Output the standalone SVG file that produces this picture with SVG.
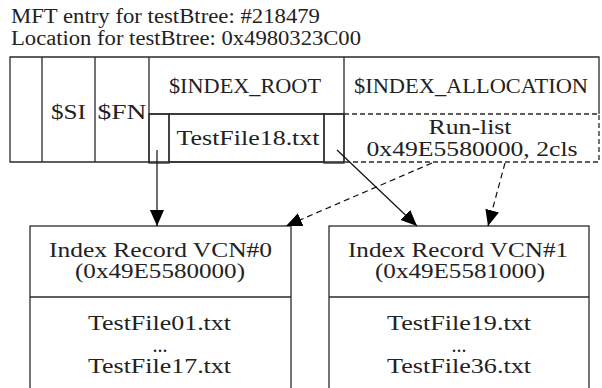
<svg xmlns="http://www.w3.org/2000/svg" width="602" height="388" viewBox="0 0 602 388">
  <style>
    text { font-family: "Liberation Serif", "Times New Roman", serif; font-size: 20px; fill: #222; }
    .c { text-anchor: middle; }
    .frame { fill: none; stroke: #2a2a2a; stroke-width: 1.3; }
    .dash { fill: none; stroke: #2a2a2a; stroke-width: 1.3; stroke-dasharray: 5 3; }
    .edge { fill: none; stroke: #111; stroke-width: 1.2; }
    .edge.dashed { stroke-dasharray: 6 4; }
  </style>
  <defs>
    <marker id="head" markerUnits="userSpaceOnUse" markerWidth="17" markerHeight="15" refX="16" refY="7" orient="auto">
      <path d="M0,0 L16,7 L0,14 Z" fill="#000"/>
    </marker>
  </defs>
  <rect width="602" height="388" fill="#fff"/>

  <!-- header lines -->
  <g id="title">
    <text x="11" y="23" textLength="309" lengthAdjust="spacingAndGlyphs">MFT entry for testBtree: #218479</text>
    <text x="11" y="45" textLength="350" lengthAdjust="spacingAndGlyphs">Location for testBtree: 0x4980323C00</text>
  </g>

  <!-- MFT record layout -->
  <g id="mft-entry">
    <path class="frame" d="M599,114 V57 H10 V162 H344"/>
    <path class="frame" d="M42,57 V162 M95,57 V162 M149,57 V163 M344,57 V163 M149,114 H344"/>
    <path class="dash" d="M344,114 H599 V162 H344"/>
    <text class="c" x="68.5" y="119" textLength="35" lengthAdjust="spacingAndGlyphs">$SI</text>
    <text class="c" x="122" y="119" textLength="49" lengthAdjust="spacingAndGlyphs">$FN</text>
    <text class="c" x="245" y="93" textLength="152" lengthAdjust="spacingAndGlyphs">$INDEX_ROOT</text>
    <text class="c" x="471" y="93" textLength="234" lengthAdjust="spacingAndGlyphs">$INDEX_ALLOCATION</text>
  </g>
  <g id="root-left-slot">
    <rect class="frame" x="149" y="114" width="20" height="49"/>
  </g>
  <g id="root-entry">
    <rect class="frame" x="169" y="114" width="155" height="48"/>
    <text class="c" x="248" y="145" textLength="143" lengthAdjust="spacingAndGlyphs">TestFile18.txt</text>
  </g>
  <g id="root-right-slot">
    <rect class="frame" x="324" y="114" width="20" height="49"/>
  </g>
  <g id="run-list">
    <text class="c" x="470" y="134" textLength="83" lengthAdjust="spacingAndGlyphs">Run-list</text>
    <text class="c" x="472" y="156" textLength="211" lengthAdjust="spacingAndGlyphs">0x49E5580000, 2cls</text>
  </g>

  <!-- index records -->
  <g id="vcn0">
    <rect class="frame" x="30" y="226" width="261" height="180"/>
    <path class="frame" d="M30,297 H291"/>
    <text class="c" x="160.5" y="257" textLength="223" lengthAdjust="spacingAndGlyphs">Index Record VCN#0</text>
    <text class="c" x="160" y="278" textLength="170" lengthAdjust="spacingAndGlyphs">(0x49E5580000)</text>
    <text class="c" x="159.5" y="330" textLength="143" lengthAdjust="spacingAndGlyphs">TestFile01.txt</text>
    <text class="c" x="160" y="352">...</text>
    <text class="c" x="159.5" y="373" textLength="143" lengthAdjust="spacingAndGlyphs">TestFile17.txt</text>
  </g>
  <g id="vcn1">
    <rect class="frame" x="329" y="226" width="260" height="180"/>
    <path class="frame" d="M329,297 H589"/>
    <text class="c" x="458" y="257" textLength="220" lengthAdjust="spacingAndGlyphs">Index Record VCN#1</text>
    <text class="c" x="460" y="278" textLength="170" lengthAdjust="spacingAndGlyphs">(0x49E5581000)</text>
    <text class="c" x="459" y="330" textLength="144" lengthAdjust="spacingAndGlyphs">TestFile19.txt</text>
    <text class="c" x="459" y="352">...</text>
    <text class="c" x="459" y="373" textLength="144" lengthAdjust="spacingAndGlyphs">TestFile36.txt</text>
  </g>

  <!-- pointers -->
  <g id="connectors">
    <line class="edge" x1="157" y1="150" x2="157" y2="226" marker-end="url(#head)"/>
    <line class="edge" x1="337" y1="150" x2="417" y2="226" marker-end="url(#head)"/>
    <line class="edge dashed" x1="432" y1="163" x2="286" y2="226" marker-end="url(#head)"/>
    <line class="edge dashed" x1="505" y1="163" x2="488" y2="226" marker-end="url(#head)"/>
  </g>
</svg>
